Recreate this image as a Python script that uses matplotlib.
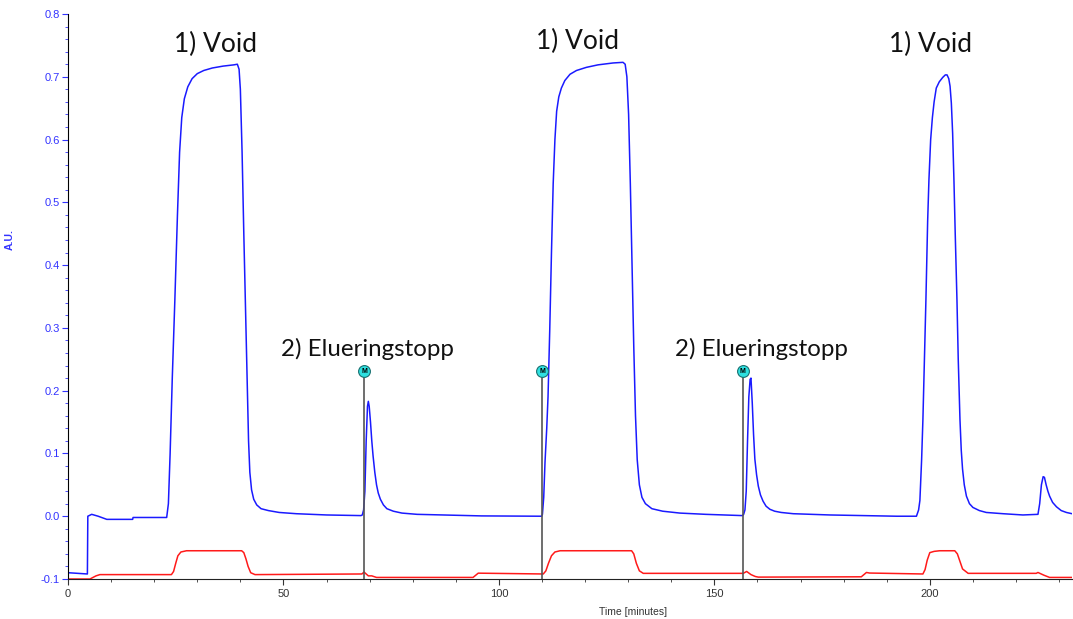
import matplotlib.pyplot as plt
import numpy as np

plt.rcParams['font.family'] = ['Liberation Sans', 'DejaVu Sans']

# Blue trace (UV, A.U.)
blue_t = [0, 0.05, 4.5, 4.6, 5.5, 7, 9, 15, 15.1, 22.9,
          23.3, 23.7, 24.2, 24.8, 25.4, 25.9, 26.4, 27.0, 27.8, 28.8, 30.0, 31.5, 33.5,
          36, 38.5, 39.3, 39.7, 40.0, 40.4, 40.8, 41.2, 41.6, 41.9, 42.2, 42.6, 43.1,
          43.8, 44.8, 46.5, 49, 53, 60, 68,
          68.3, 68.6, 68.9, 69.2, 69.5, 69.7, 69.9, 70.2, 70.5, 70.8, 71.2, 71.6, 72.0,
          72.5, 73.2, 74, 75.5, 77.5, 81, 96, 109.9,
          110.1, 110.4, 110.7, 111.1, 111.4, 111.8, 112.2, 112.6, 113, 113.4, 113.9, 114.5,
          115.3, 116.5, 118, 120.3, 123, 126.5, 128.8, 129.3, 129.7, 130.1, 130.5, 130.9,
          131.3, 131.7, 132.1, 132.6, 133.2, 134, 135.5, 138, 142, 148, 156.5,
          156.8, 157.1, 157.4, 157.7, 158.0, 158.3, 158.5, 158.8, 159.1, 159.4, 159.8,
          160.2, 160.7, 161.3, 162, 162.9, 164, 165.5, 168.3, 176.8, 192.3,
          196.9, 197.4, 197.7, 198.1, 198.4, 198.8, 199.1, 199.5, 199.8, 200.2, 200.6, 201,
          201.5, 202.2, 203, 203.6, 204.0, 204.4, 204.7, 205, 205.3, 205.6, 205.9, 206.3,
          206.6, 207, 207.3, 207.6, 208, 208.5, 209.2, 210, 211.5, 213.1, 217, 221.6,
          225.1, 225.5, 225.9, 226.3, 226.6, 227, 227.4, 227.8, 228.5, 229.4, 230.5, 231.7,
          233]
blue_v = [0.0, -0.09, -0.092, 0.0, 0.003, 0.0, -0.005, -0.005, -0.002, -0.002,
          0.02, 0.1, 0.22, 0.345, 0.48, 0.58, 0.635, 0.665, 0.684, 0.697, 0.705, 0.71,
          0.714, 0.717, 0.719, 0.72, 0.712, 0.68, 0.58, 0.45, 0.33, 0.21, 0.12, 0.07,
          0.042, 0.027, 0.018, 0.012, 0.009, 0.006, 0.004, 0.002, 0.001,
          0.002, 0.01, 0.04, 0.12, 0.175, 0.183, 0.175, 0.15, 0.12, 0.096, 0.07, 0.05,
          0.037, 0.027, 0.018, 0.012, 0.008, 0.005, 0.003, 0.0005, 0.0,
          0.003, 0.03, 0.086, 0.14, 0.19, 0.297, 0.42, 0.53, 0.6, 0.645, 0.668, 0.682,
          0.694, 0.704, 0.71, 0.715, 0.719, 0.722, 0.723, 0.72, 0.7, 0.64, 0.53, 0.4,
          0.27, 0.16, 0.09, 0.05, 0.03, 0.02, 0.012, 0.008, 0.005, 0.003, 0.001,
          0.003, 0.01, 0.04, 0.12, 0.19, 0.218, 0.22, 0.18, 0.13, 0.091, 0.066,
          0.048, 0.034, 0.024, 0.016, 0.011, 0.008, 0.006, 0.004, 0.002, 0.0,
          0.0, 0.01, 0.025, 0.09, 0.154, 0.26, 0.345, 0.47, 0.536, 0.6, 0.635, 0.66,
          0.682, 0.692, 0.699, 0.703, 0.703, 0.697, 0.685, 0.658, 0.61, 0.536, 0.45, 0.345,
          0.25, 0.154, 0.105, 0.075, 0.05, 0.032, 0.02, 0.014, 0.009, 0.006, 0.004, 0.002,
          0.003, 0.02, 0.05, 0.063, 0.062, 0.05, 0.04, 0.032, 0.022, 0.015, 0.009, 0.006,
          0.004]

# Red trace
red_t = [0, 5.1, 6.5, 7.4, 24, 24.5, 25.0, 25.5, 26.2, 27.5, 40.3, 40.8, 41.3, 41.8, 42.4,
         43.4, 68.2, 68.7, 69.7, 70.5, 71.6, 94, 95.2, 110.3, 110.9, 111.5, 112.2, 113,
         114.2, 130.8, 131.3, 131.9, 132.6, 133.5, 156.7, 157.5, 158.5, 159.5, 160.2,
         184.1, 185.3, 186, 198.4, 198.9, 199.4, 200, 201, 202.3, 205.8, 206.4, 207.0,
         207.6, 208.9, 224.7, 225.1, 226.5, 227.8, 233]
red_v = [-0.1, -0.1, -0.095, -0.093, -0.093, -0.088, -0.075, -0.063, -0.057, -0.055,
         -0.055, -0.058, -0.068, -0.08, -0.09, -0.093, -0.092, -0.089, -0.095, -0.095,
         -0.0975, -0.0975, -0.0907, -0.092, -0.087, -0.075, -0.063, -0.057, -0.055, -0.055,
         -0.06, -0.075, -0.087, -0.091, -0.091, -0.088, -0.093, -0.096, -0.097, -0.0965,
         -0.0896, -0.0905, -0.092, -0.085, -0.07, -0.058, -0.056, -0.055, -0.055, -0.06,
         -0.072, -0.084, -0.091, -0.091, -0.0896, -0.094, -0.0975, -0.0975]

# Event markers
marker_t = [68.7, 110.1, 156.6]
marker_top = 0.231

# Annotations
void_t = [34.3, 118.3, 200.2]
void_v = [0.751, 0.757, 0.751]
stop_t = [69.4, 161.0]
stop_v = [0.267, 0.266]

fig = plt.figure(figsize=(10.73, 6.19), dpi=100)
ax = fig.add_axes([68 / 1073, 1 - 579 / 619, 1004 / 1073, 565 / 619])

ax.plot(red_t, red_v, color="#ff1a1a", lw=1.1)
ax.plot(blue_t, blue_v, color="#1a1aff", lw=1.1)

for t in marker_t:
    ax.plot([t, t], [-0.1, marker_top], color="#555555", lw=1.2, zorder=3)
    ax.plot(t, marker_top, "o", ms=8.5, mfc="#2ee0e0", mec="#1a7070", mew=0.8, zorder=4)
    ax.text(t, marker_top, "M", ha="center", va="center", fontsize=5, fontweight="bold",
            color="black", zorder=5)

for t, v in zip(void_t, void_v):
    ax.text(t, v, "1) Void", ha="center", va="center", fontsize=19, family="Lato",
            color="#111111")
for t, v in zip(stop_t, stop_v):
    ax.text(t, v, "2) Elueringstopp", ha="center", va="center", fontsize=17.3,
            family="Lato", color="#111111")

ax.set_xlim(0, 233)
ax.set_ylim(-0.1, 0.8)
ax.set_xticks([0, 50, 100, 150, 200])
ax.set_xticks(np.arange(0, 231, 10), minor=True)
ax.set_yticks(np.arange(-0.1, 0.81, 0.1))
ax.set_yticks(np.arange(-0.1, 0.8, 0.02), minor=True)
ax.set_yticklabels(["%.1f" % v for v in np.arange(-0.1, 0.81, 0.1)])

ax.spines["top"].set_visible(False)
ax.spines["right"].set_visible(False)
ax.spines["left"].set_color("black")
ax.spines["bottom"].set_color("#222222")

ax.tick_params(axis="y", which="major", length=4, color="#3333ff", labelcolor="#3333ff",
               labelsize=8, pad=2)
ax.tick_params(axis="y", which="minor", length=2.5, color="#3333ff")
ax.tick_params(axis="x", which="major", length=4, color="#333333", labelcolor="#333333",
               labelsize=8, pad=3)
ax.tick_params(axis="x", which="minor", length=2.5, color="#333333")

ax.set_ylabel("A.U.", color="#3333ff", fontsize=7.5, fontweight="bold")
ax.yaxis.set_label_coords(-0.053, 0.6)
ax.set_xlabel("Time [minutes]", color="#333333", fontsize=7.5)
ax.xaxis.set_label_coords(0.563, -0.05)

fig.savefig("out.png", dpi=100)
